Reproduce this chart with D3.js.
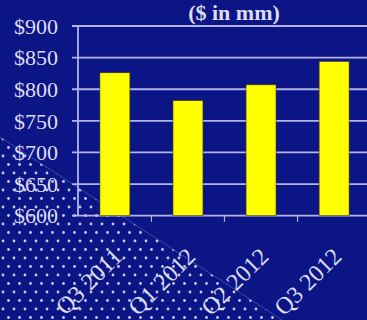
<!DOCTYPE html>
<html>
<head>
<meta charset="utf-8">
<script src="https://cdn.jsdelivr.net/npm/d3@7"></script>
<style>
  html, body { margin: 0; padding: 0; background: #0b1585; }
  svg { display: block; }
</style>
</head>
<body>
<svg id="chart" width="367" height="320"></svg>
<script>
// Quarterly amounts, $ in millions
const quarters = ["Q3 2011", "Q1 2012", "Q2 2012", "Q3 2012"];
const amounts = [826, 782, 807, 844];
const yTicks = [600, 650, 700, 750, 800, 850, 900];
const title = "($ in mm)";

const W = 367, H = 320;
const svg = d3.select("#chart");
const textColor = "#dcdcf2";
const gridColor = "#b4b4e6";
const serif = "'Liberation Serif', 'DejaVu Serif', serif";

// background
svg.append("rect").attr("width", W).attr("height", H).attr("fill", "#0b1585");

// dotted corner decoration
const defs = svg.append("defs");
const pat = defs.append("pattern")
  .attr("id", "dots").attr("patternUnits", "userSpaceOnUse")
  .attr("width", 11).attr("height", 17);
pat.append("circle").attr("cx", 3).attr("cy", 3).attr("r", 1.4).attr("fill", "#e8eaff");
pat.append("circle").attr("cx", 8.5).attr("cy", 11.5).attr("r", 1.4).attr("fill", "#e8eaff");

const corner = [[0, 137], [282, 320], [0, 320]];
svg.append("path")
  .attr("d", d3.line()(corner) + "Z")
  .attr("fill", "url(#dots)")
  .attr("opacity", 0.85);
svg.append("line")
  .attr("x1", 0).attr("y1", 137).attr("x2", 282).attr("y2", 320)
  .attr("stroke", "#8f94d8").attr("stroke-width", 0.8).attr("opacity", 0.5);

// scales
const x = d3.scaleBand().domain(quarters).range([78, 371])
  .paddingInner(0.59).paddingOuter(0.3);
const y = d3.scaleLinear().domain([600, 900]).range([215.7, 26]);

// gridlines
svg.append("g").selectAll("line").data(yTicks).join("line")
  .attr("x1", 72).attr("x2", W)
  .attr("y1", d => y(d)).attr("y2", d => y(d))
  .attr("stroke", gridColor).attr("stroke-width", 1.8);

// vertical axis line
svg.append("line")
  .attr("x1", 78).attr("x2", 78)
  .attr("y1", y(900)).attr("y2", y(600))
  .attr("stroke", gridColor).attr("stroke-width", 1.8);

// x tick marks at band boundaries
const bounds = quarters.slice(1).map(q => x(q) - x.step() * x.paddingInner() / 2);
svg.append("g").selectAll("line").data(bounds).join("line")
  .attr("x1", d => d).attr("x2", d => d)
  .attr("y1", y(600)).attr("y2", y(600) + 6)
  .attr("stroke", gridColor).attr("stroke-width", 1.2);

// bars
svg.append("g").selectAll("rect").data(quarters).join("rect")
  .attr("x", d => x(d))
  .attr("y", (d, i) => y(amounts[i]))
  .attr("width", x.bandwidth())
  .attr("height", (d, i) => y(600) - y(amounts[i]))
  .attr("fill", "#ffff00")
  .attr("stroke", "#3a3a20").attr("stroke-width", 0.6);

// y labels
svg.append("g").selectAll("text").data(yTicks).join("text")
  .attr("x", 58).attr("y", d => y(d))
  .attr("dy", "0.35em")
  .attr("text-anchor", "end")
  .attr("font-family", serif).attr("font-size", 22)
  .attr("fill", textColor)
  .text(d => "$" + d);

// x labels, rotated
svg.append("g").selectAll("text").data(quarters).join("text")
  .attr("transform", d => `translate(${x(d) + x.bandwidth() / 2 - 3},${246}) rotate(-45)`)
  .attr("text-anchor", "end")
  .attr("dy", "0.7em")
  .attr("font-family", serif).attr("font-size", 24)
  .attr("fill", textColor)
  .text(d => d);

// title
svg.append("text")
  .attr("x", 234).attr("y", 20)
  .attr("text-anchor", "middle")
  .attr("font-family", serif).attr("font-size", 22).attr("font-weight", "bold")
  .attr("fill", textColor)
  .text(title);
</script>
</body>
</html>
